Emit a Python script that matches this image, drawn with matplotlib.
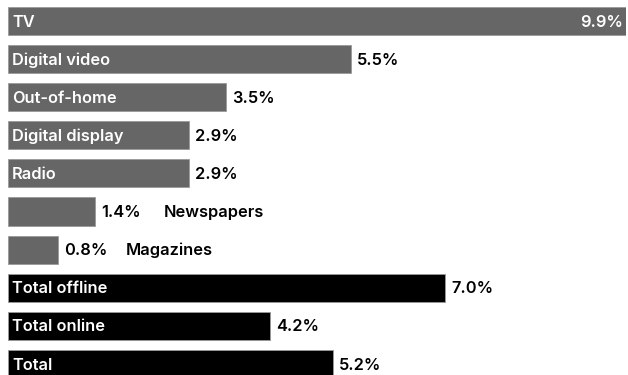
import matplotlib.pyplot as plt

categories = ["TV", "Digital video", "Out-of-home", "Digital display", "Radio",
              "Newspapers", "Magazines", "Total offline", "Total online", "Total"]
values = [9.9, 5.5, 3.5, 2.9, 2.9, 1.4, 0.8, 7.0, 4.2, 5.2]
labels_outside = ["Newspapers", "Magazines"]
totals = ["Total offline", "Total online", "Total"]

plt.rcParams['font.family'] = ['Inter', 'DejaVu Sans']

fig = plt.figure(figsize=(6.28, 3.75), dpi=100)
ax = fig.add_axes([8 / 628, 0, 618 / 628, 1])
ax.set_xlim(0, 9.9)
ax.set_ylim((375 - 21) / 38.1, -21 / 38.1)
ax.axis('off')

fs = 11.8
px = 9.9 / 618  # data units per pixel
for i, (cat, v) in enumerate(zip(categories, values)):
    color = "#000000" if cat in totals else "#666666"
    ax.barh(i, v, height=0.74, color=color, edgecolor="#9a9a9a", linewidth=0.6)
    y = i + 0.03
    if cat == "TV":
        ax.text(v - 3 * px, y, f"{v:.1f}%", color="white", ha="right", va="center",
                fontsize=fs, fontweight="semibold")
    else:
        ax.text(v + 6 * px, y, f"{v:.1f}%", color="black", ha="left", va="center",
                fontsize=fs, fontweight="semibold")
    if cat in labels_outside:
        ax.text(v + 68 * px, y, cat, color="black", ha="left", va="center",
                fontsize=fs, fontweight="semibold")
    else:
        ax.text(4 * px, y, cat, color="white", ha="left", va="center",
                fontsize=fs, fontweight="semibold")

fig.savefig("out.png", dpi=100)
